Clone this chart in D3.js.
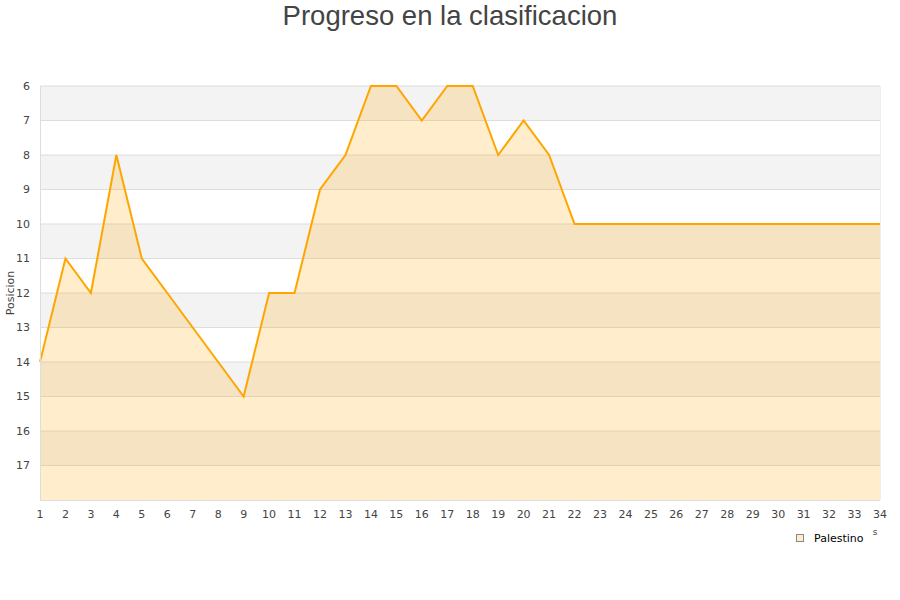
<!DOCTYPE html>
<html><head><meta charset="utf-8">
<script src="https://cdn.jsdelivr.net/npm/d3@7/dist/d3.min.js"></script>
<style>body{margin:0;background:#fff;}svg{display:block;}</style>
</head><body>
<svg id="c" width="900" height="600"></svg>
<script>
const title = "Progreso en la clasificacion";
const seriesName = "Palestino";
const yLabel = "Posicion";
const jornadas = d3.range(1, 35);
const posiciones = [14,11,12,8,11,12,13,14,15,12,12,9,8,6,6,7,6,6,8,7,8,10,10,10,10,10,10,10,10,10,10,10,10,10];
const yTicks = [6,7,8,9,10,11,12,13,14,15,16,17];

const svg = d3.select("#c");
const m = {l:40, r:880, t:86, b:500};
const x = d3.scaleLinear().domain([1,34]).range([m.l, m.r]);
const y = d3.scaleLinear().domain([6,18]).range([m.t, m.b]);

// bands
const bands = d3.range(6, 18);
svg.selectAll("rect.band").data(bands).enter().append("rect")
  .attr("x", m.l).attr("width", m.r - m.l)
  .attr("y", d => y(d)).attr("height", d => y(d+1) - y(d))
  .attr("fill", d => (d % 2 === 0) ? "#f3f3f3" : "#ffffff");

// grid lines
svg.selectAll("line.grid").data(yTicks).enter().append("line")
  .attr("x1", m.l).attr("x2", m.r).attr("y1", d => y(d)).attr("y2", d => y(d))
  .attr("stroke", "#dddddd").attr("stroke-width", 1);

const data = jornadas.map((j,i) => ({j, p: posiciones[i]}));
svg.append("path").datum(data)
  .attr("d", d3.area().x(d => x(d.j)).y0(m.b).y1(d => y(d.p)))
  .attr("fill", "rgba(255,165,0,0.2)");
svg.append("path").datum(data)
  .attr("d", d3.line().x(d => x(d.j)).y(d => y(d.p)))
  .attr("fill", "none").attr("stroke", "#ffa500").attr("stroke-width", 2);

// axes lines
svg.append("line").attr("x1", m.l+0.5).attr("x2", m.l+0.5).attr("y1", m.t).attr("y2", m.b)
  .attr("stroke", "#dddddd");
svg.append("line").attr("x1", m.l).attr("x2", m.r).attr("y1", m.b+0.5).attr("y2", m.b+0.5)
  .attr("stroke", "#dddddd");
svg.append("line").attr("x1", m.r+0.5).attr("x2", m.r+0.5).attr("y1", m.t).attr("y2", m.b)
  .attr("stroke", "#eeeeee");

const font = "DejaVu Sans, sans-serif";
svg.selectAll("text.yt").data(yTicks).enter().append("text")
  .attr("x", 30).attr("y", d => y(d)).attr("dy", "0.35em")
  .attr("text-anchor", "end").attr("font-family", font).attr("font-size", 11)
  .attr("fill", "#444").text(d => d);
svg.selectAll("text.xt").data(jornadas).enter().append("text")
  .attr("x", d => x(d)).attr("y", 518)
  .attr("text-anchor", "middle").attr("font-family", font).attr("font-size", 11)
  .attr("fill", "#444").text(d => d);

svg.append("text").attr("transform", "translate(14,293) rotate(-90)")
  .attr("text-anchor", "middle").attr("font-family", font).attr("font-size", 11)
  .attr("fill", "#444").text(yLabel);

svg.append("text").attr("x", 450).attr("y", 25).attr("text-anchor", "middle")
  .attr("font-family", "Liberation Sans, Arial, sans-serif").attr("font-size", 27.5)
  .attr("fill", "#444").text(title);

// legend
svg.append("rect").attr("x", 796.5).attr("y", 534.5).attr("width", 7).attr("height", 7)
  .attr("fill", "#ffecc8").attr("stroke", "#888");
svg.append("text").attr("x", 814).attr("y", 538).attr("dy", "0.35em")
  .attr("font-family", font).attr("font-size", 11).attr("fill", "#000").text(seriesName);
svg.append("text").attr("x", 875).attr("y", 535)
  .attr("text-anchor", "middle").attr("font-family", font).attr("font-size", 9)
  .attr("fill", "#444").text("s");
</script>
</body></html>
